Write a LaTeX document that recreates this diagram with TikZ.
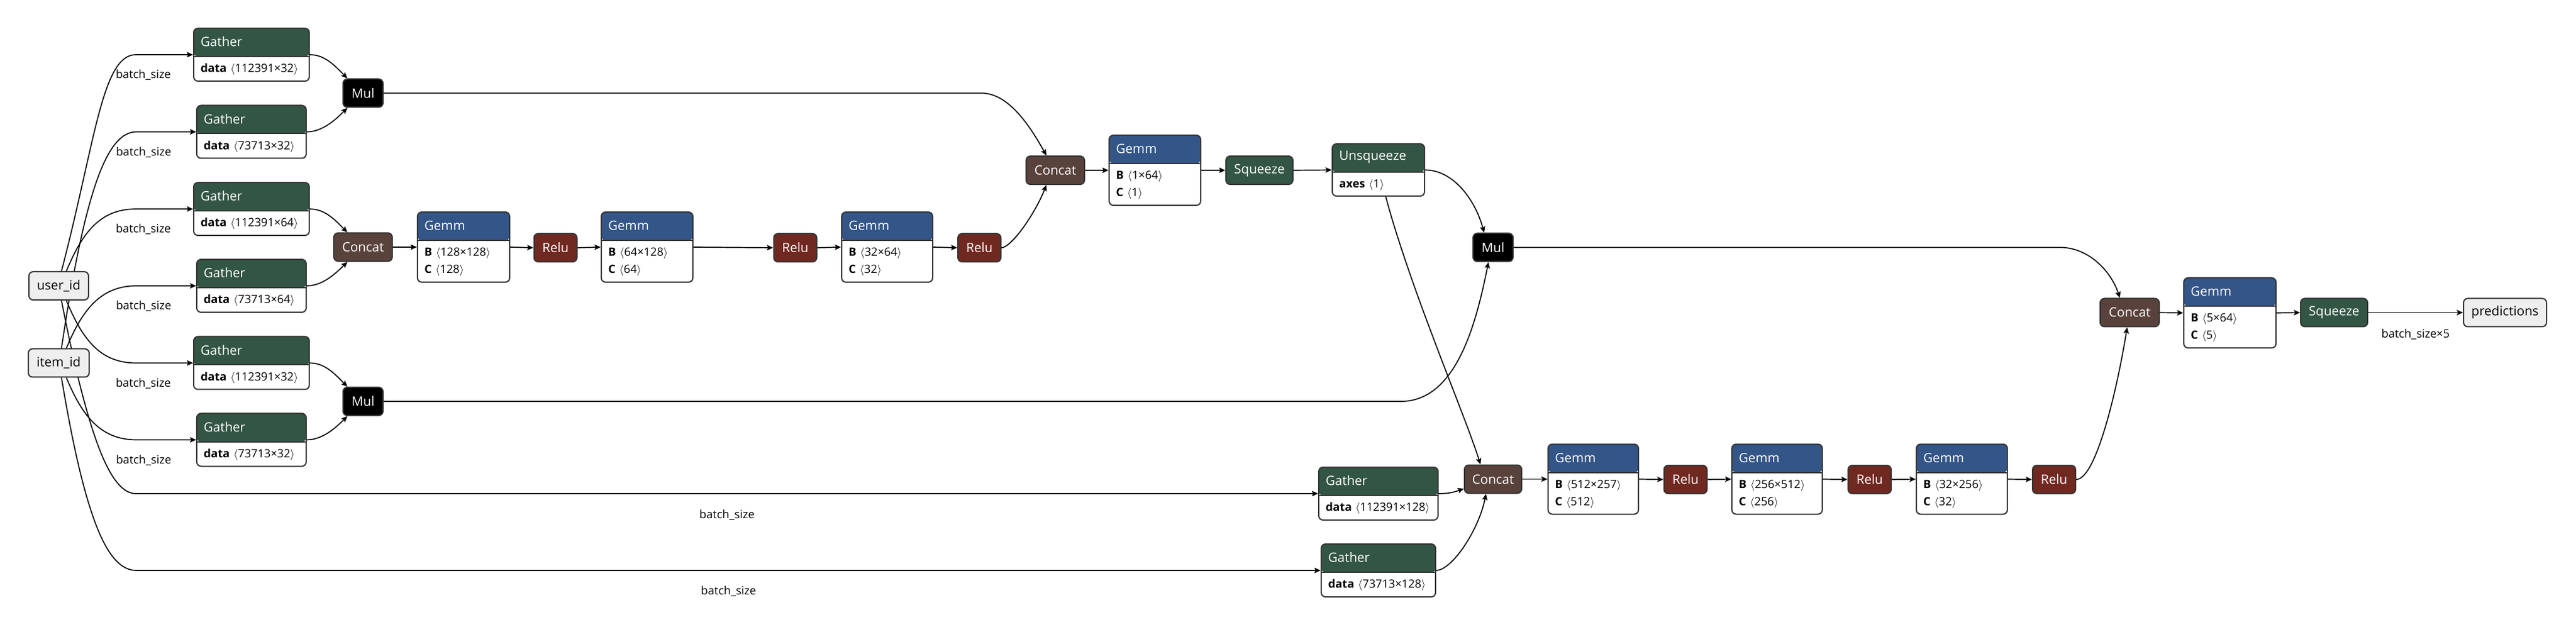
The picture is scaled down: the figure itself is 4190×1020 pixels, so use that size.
\documentclass[tikz,border=0pt]{standalone}
\usepackage{fontspec}
\setmainfont{Open Sans}
\usetikzlibrary{arrows.meta, calc}

\definecolor{transform}{RGB}{51,85,68}
\definecolor{layer}{RGB}{51,85,136}
\definecolor{activation}{RGB}{112,41,33}
\definecolor{tensor}{RGB}{89,66,59}
\definecolor{frame}{RGB}{51,51,51}
\definecolor{iofill}{RGB}{238,238,238}

\pgfdeclarelayer{paper}
\pgfdeclarelayer{wires}
\pgfsetlayers{paper,wires,main}

\newcommand{\headfont}{\fontsize{10.5pt}{12.6pt}\selectfont}
\newcommand{\attrfont}{\fontsize{9.3pt}{11pt}\selectfont}
\newcommand{\attr}[2]{\textbf{#1}\,\,$\langle$#2$\rangle$}

% name, centre, width, height, colour, title, rows
\newcommand{\opnode}[7]{%
  \node[opbox, minimum width=#3, minimum height=#4,
    path picture={
      \fill[#5] (path picture bounding box.north west) rectangle ([yshift=-23pt]path picture bounding box.north east);
      \draw[frame, line width=1pt] ([yshift=-23pt]path picture bounding box.north west) -- ([yshift=-23pt]path picture bounding box.north east);
    }] (#1) at (#2) {};
  \node[optitle, anchor=west] at ([xshift=6pt, yshift=-11.5pt]#1.north west) {#6};
  \foreach \row [count=\i] in {#7}
    \node[oprow, anchor=west] at ([xshift=6pt, yshift={-34pt-14pt*(\i-1)}]#1.north west) {\row};
}

\tikzset{
  opbox/.style={draw=frame, fill=white, line width=1pt, rounded corners=3.5pt, inner sep=0pt},
  optitle/.style={text=white, font=\headfont, inner sep=0pt},
  oprow/.style={text=black, font=\attrfont, inner sep=0pt},
  opsmall/.style={draw=frame, line width=1pt, rounded corners=3.5pt, minimum height=23pt, inner xsep=0pt, text=white, font=\headfont},
  ionode/.style={opsmall, fill=iofill, text=black},
  flow/.style={->, line width=0.85pt},
  lbl/.style={font=\attrfont, text=black, inner sep=0pt},
}

\begin{document}
\begin{tikzpicture}[x=0.5pt, y=-0.5pt, >={Stealth[length=5pt, width=4.4pt, inset=1pt]}]
  \useasboundingbox (0,0) rectangle (4190,1020);
  \begin{pgfonlayer}{paper}
    \fill[white] (0,0) rectangle (4190,1020);
  \end{pgfonlayer}

  \node[ionode, minimum width=48.5pt] (uid) at (95.5,465) {user\_id};
  \node[ionode, minimum width=49.5pt] (iid) at (95.5,590.5) {item\_id};

  \opnode{g1}{409,89}{94pt}{43pt}{transform}{Gather}{\attr{data}{112391×32}}
  \opnode{g2}{409,214.5}{89pt}{43pt}{transform}{Gather}{\attr{data}{73713×32}}
  \opnode{g3}{409,340}{94pt}{43pt}{transform}{Gather}{\attr{data}{112391×64}}
  \opnode{g4}{409,465}{89pt}{43pt}{transform}{Gather}{\attr{data}{73713×64}}
  \opnode{g5}{409,590.5}{94pt}{43pt}{transform}{Gather}{\attr{data}{112391×32}}
  \opnode{g6}{409,715.5}{89pt}{43pt}{transform}{Gather}{\attr{data}{73713×32}}
  \opnode{g7}{2242,803}{97pt}{43pt}{transform}{Gather}{\attr{data}{112391×128}}
  \opnode{g8}{2242,928}{93pt}{43pt}{transform}{Gather}{\attr{data}{73713×128}}

  \node[opsmall, fill=black, minimum width=32.5pt] (m1) at (590.5,151.5) {Mul};
  \node[opsmall, fill=tensor, minimum width=47.5pt] (c1) at (590.5,402) {Concat};
  \node[opsmall, fill=black, minimum width=32.5pt] (m2) at (590.5,653) {Mul};

  \opnode{gm1}{754,402}{75pt}{57pt}{layer}{Gemm}{\attr{B}{128×128}, \attr{C}{128}}
  \node[opsmall, fill=activation, minimum width=35pt] (r1) at (903.5,403) {Relu};
  \opnode{gm2}{1052.5,402}{74.5pt}{57pt}{layer}{Gemm}{\attr{B}{64×128}, \attr{C}{64}}
  \node[opsmall, fill=activation, minimum width=35pt] (r2) at (1293.5,403) {Relu};
  \opnode{gm3}{1443,402}{74pt}{57pt}{layer}{Gemm}{\attr{B}{32×64}, \attr{C}{32}}
  \node[opsmall, fill=activation, minimum width=35pt] (r3) at (1593,403) {Relu};

  \node[opsmall, fill=tensor, minimum width=47.5pt] (c2) at (1716.5,277) {Concat};
  \opnode{gm4}{1878.5,277}{74.5pt}{57pt}{layer}{Gemm}{\attr{B}{1×64}, \attr{C}{1}}
  \node[opsmall, fill=transform, minimum width=54.5pt] (sq1) at (2048.5,277) {Squeeze};
  \opnode{unsq}{2242,276.5}{75pt}{42.5pt}{transform}{Unsqueeze}{\attr{axes}{1}}
  \node[opsmall, fill=black, minimum width=32.5pt] (m3) at (2428.5,402.5) {Mul};

  \node[opsmall, fill=tensor, minimum width=46.5pt] (c4) at (2428.5,779.5) {Concat};
  \opnode{gm6}{2591.5,779.5}{73.5pt}{57pt}{layer}{Gemm}{\attr{B}{512×257}, \attr{C}{512}}
  \node[opsmall, fill=activation, minimum width=35pt] (r4) at (2741.5,780) {Relu};
  \opnode{gm7}{2890.5,779.5}{73.5pt}{57pt}{layer}{Gemm}{\attr{B}{256×512}, \attr{C}{256}}
  \node[opsmall, fill=activation, minimum width=35pt] (r5) at (3041,780) {Relu};
  \opnode{gm8}{3191,779.5}{74pt}{57pt}{layer}{Gemm}{\attr{B}{32×256}, \attr{C}{32}}
  \node[opsmall, fill=activation, minimum width=35pt] (r6) at (3341,780) {Relu};

  \node[opsmall, fill=tensor, minimum width=48pt] (c3) at (3464,508.5) {Concat};
  \opnode{gm5}{3627,509}{75pt}{57pt}{layer}{Gemm}{\attr{B}{5×64}, \attr{C}{5}}
  \node[opsmall, fill=transform, minimum width=54.5pt] (sq2) at (3796.5,508.5) {Squeeze};
  \node[ionode, minimum width=67.5pt] (pred) at (4074.5,508.5) {predictions};

  \begin{pgfonlayer}{wires}
    \draw[flow] ([xshift=2.25pt]uid.north) .. controls +(55,-210) and +(-55,0) .. ([xshift=38pt]uid.east |- g1.west) -- node[lbl, pos=0.13, yshift=-16.5pt] {batch\_size} (g1.west);
    \draw[flow] ([xshift=2.25pt]iid.north) .. controls +(40,-270) and +(-45,0) .. ([xshift=38pt]iid.east |- g2.west) -- node[lbl, pos=0.12, yshift=-16.5pt] {batch\_size} (g2.west);
    \draw[flow] ([xshift=6.25pt]uid.north) .. controls +(25,-60) and +(-60,0) .. ([xshift=38pt]uid.east |- g3.west) -- node[lbl, pos=0.13, yshift=-16.5pt] {batch\_size} (g3.west);
    \draw[flow] ([xshift=6.25pt]iid.north) .. controls +(25,-60) and +(-60,0) .. ([xshift=38pt]iid.east |- g4.west) -- node[lbl, pos=0.12, yshift=-16.5pt] {batch\_size} (g4.west);
    \draw[flow] ([xshift=6.25pt]uid.south) .. controls +(25,60) and +(-60,0) .. ([xshift=38pt]uid.east |- g5.west) -- node[lbl, pos=0.13, yshift=-16.5pt] {batch\_size} (g5.west);
    \draw[flow] ([xshift=6.25pt]iid.south) .. controls +(25,60) and +(-60,0) .. ([xshift=38pt]iid.east |- g6.west) -- node[lbl, pos=0.12, yshift=-16.5pt] {batch\_size} (g6.west);
    \draw[flow] ([xshift=2.25pt]uid.south) .. controls +(45,230) and +(-40,0) .. ([xshift=38pt]uid.east |- g7.west) -- node[lbl, midway, yshift=-17.5pt] {batch\_size} (g7.west);
    \draw[flow] ([xshift=2.25pt]iid.south) .. controls +(40,240) and +(-45,0) .. ([xshift=38pt]iid.east |- g8.west) -- node[lbl, midway, yshift=-17pt] {batch\_size} (g8.west);

    \draw[flow] (g1.east) .. controls +(25,0) and +(-20,-20) .. ([xshift=-12.75pt]m1.north);
    \draw[flow] (g2.east) .. controls +(25,0) and +(-20,20) .. ([xshift=-12.75pt]m1.south);
    \draw[flow] (g3.east) .. controls +(25,0) and +(-20,-20) .. ([xshift=-12.75pt]c1.north);
    \draw[flow] (g4.east) .. controls +(25,0) and +(-20,20) .. ([xshift=-12.75pt]c1.south);
    \draw[flow] (g5.east) .. controls +(25,0) and +(-20,-20) .. ([xshift=-12.75pt]m2.north);
    \draw[flow] (g6.east) .. controls +(25,0) and +(-20,20) .. ([xshift=-12.75pt]m2.south);

    \draw[flow] (c1.east) -- (gm1.west);
    \draw[flow] (gm1.east) -- (r1.west);
    \draw[flow] (r1.east) -- (gm2.west);
    \draw[flow] (gm2.east) -- (r2.west);
    \draw[flow] (r2.east) -- (gm3.west);
    \draw[flow] (gm3.east) -- (r3.west);

    \draw[flow] (m1.east) -- ([xshift=-60pt]c2.north |- m1.east) .. controls +(45,0) and +(-25,-45) .. ([xshift=-7.25pt]c2.north);
    \draw[flow] (r3.east) .. controls +(15,0) and +(-20,50) .. ([xshift=-7.25pt]c2.south);
    \draw[flow] (c2.east) -- (gm4.west);
    \draw[flow] (gm4.east) -- (sq1.west);
    \draw[flow] (sq1.east) -- (unsq.west);
    \draw[flow] (unsq.east) .. controls +(45,0) and +(-15,-55) .. ([xshift=-7.25pt]m3.north);
    \draw[flow] ([xshift=6pt]unsq.south) .. controls +(40,150) and +(-25,-80) .. ([xshift=-10.25pt]c4.north);
    \draw[flow] (m2.east) -- ([xshift=-75pt]m3.south |- m2.east) .. controls +(90,0) and +(-20,100) .. ([xshift=-3.75pt]m3.south);

    \draw[flow] (g7.east) .. controls +(20,0) and +(-15,5) .. ([yshift=-7.75pt]c4.west);
    \draw[flow] (g8.east) .. controls +(25,0) and +(-12,60) .. ([xshift=-5.75pt]c4.south);
    \draw[flow] (c4.east) -- (gm6.west);
    \draw[flow] (gm6.east) -- (r4.west);
    \draw[flow] (r4.east) -- (gm7.west);
    \draw[flow] (gm7.east) -- (r5.west);
    \draw[flow] (r5.east) -- (gm8.west);
    \draw[flow] (gm8.east) -- (r6.west);

    \draw[flow] (m3.east) -- ([xshift=-56.5pt]c3.north |- m3.east) .. controls +(45,0) and +(-15,-45) .. ([xshift=-8pt]c3.north);
    \draw[flow] (r6.east) .. controls +(30,0) and +(-20,120) .. ([xshift=-2pt]c3.south);
    \draw[flow] (c3.east) -- (gm5.west);
    \draw[flow] (gm5.east) -- (sq2.west);
    \draw[flow] (sq2.east) -- node[lbl, midway, yshift=-17.5pt] {batch\_size×5} (pred.west);
  \end{pgfonlayer}
\end{tikzpicture}
\end{document}
